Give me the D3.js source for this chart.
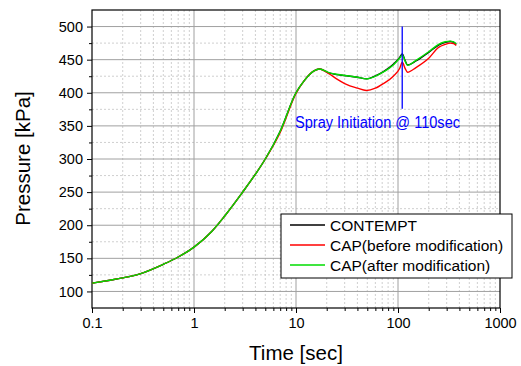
<!DOCTYPE html>
<html>
<head>
<meta charset="utf-8">
<script src="https://cdn.jsdelivr.net/npm/d3@7"></script>
<style>
  body { margin: 0; background: #fff; }
  svg { display: block; font-family: "Liberation Sans", Arial, sans-serif; }
</style>
</head>
<body>
<div id="chart"></div>
<script>
// time points [sec] shared by all series
const times = [0.1, 0.15, 0.2, 0.3, 0.5, 0.7, 1, 1.5, 2, 3, 4, 5, 7, 10, 12, 15, 17,
  21, 25, 30, 40, 49, 60, 72, 90, 104, 110, 118, 124, 150, 200, 250, 290, 325, 350, 372];

// pressure [kPa]
const contempt = [112.5, 117, 120.5, 127, 141, 152, 167, 191, 214, 250, 277, 300, 342, 400, 418, 433, 436,
  430, 427.5, 426, 423.5, 421, 425.5, 432, 443, 453.5, 458.7, 448, 442, 448, 461, 472, 476, 477.5, 476.5, 473];
const capBefore = [112.5, 117, 120.5, 127, 141, 152, 167, 191, 214, 250, 277, 300, 340, 399, 418, 433, 436,
  429, 421, 414, 407, 403.5, 407, 414, 425, 437, 446, 436, 431, 438, 452, 468.5, 473, 475, 474.5, 471.5];
const capAfter = [112.5, 117, 120.5, 127, 141, 152, 167, 191, 214, 250, 277, 300, 342, 400, 418, 433, 436,
  430.5, 428, 426, 423.5, 421, 425, 431.5, 442, 452.5, 457, 447, 441.5, 449, 462, 473, 477, 478, 477, 474];

const seriesNames = ['CONTEMPT', 'CAP(before modification)', 'CAP(after modification)'];
const seriesColors = ['#000000', '#ff0000', '#00dd00'];
const seriesValues = [contempt, capBefore, capAfter];

const xTicks = [0.1, 1, 10, 100, 1000];
const yTicks = [100, 150, 200, 250, 300, 350, 400, 450, 500];
const sprayTime = 110;
const sprayLabel = 'Spray Initiation @ 110sec';

const width = 521, height = 366;
const margin = { top: 10, right: 21, bottom: 58, left: 92 };
const innerW = width - margin.left - margin.right;
const innerH = height - margin.top - margin.bottom;

const svg = d3.select('#chart').append('svg')
  .attr('width', width)
  .attr('height', height);

const g = svg.append('g')
  .attr('transform', `translate(${margin.left},${margin.top})`);

const x = d3.scaleLog().domain([0.1, 1000]).range([0, innerW]);
const y = d3.scaleLinear().domain([75, 525]).range([innerH, 0]);

// minor positions
const xMinor = [];
[0.1, 1, 10, 100].forEach(d => { for (let k = 2; k <= 9; k++) xMinor.push(d * k); });
const yMinor = d3.range(125, 500, 50);

// grid
g.selectAll('.xminor').data(xMinor).enter().append('line')
  .attr('x1', d => x(d)).attr('x2', d => x(d))
  .attr('y1', 0).attr('y2', innerH)
  .style('stroke', '#c4c4c4').style('stroke-width', 0.8).style('stroke-dasharray', '2,2');
g.selectAll('.yminor').data(yMinor).enter().append('line')
  .attr('x1', 0).attr('x2', innerW)
  .attr('y1', d => y(d)).attr('y2', d => y(d))
  .style('stroke', '#c4c4c4').style('stroke-width', 0.8).style('stroke-dasharray', '2,2');
g.selectAll('.xmajor').data([1, 10, 100]).enter().append('line')
  .attr('x1', d => x(d)).attr('x2', d => x(d))
  .attr('y1', 0).attr('y2', innerH)
  .style('stroke', '#a0a0a0').style('stroke-width', 1);
g.selectAll('.ymajor').data(yTicks).enter().append('line')
  .attr('x1', 0).attr('x2', innerW)
  .attr('y1', d => y(d)).attr('y2', d => y(d))
  .style('stroke', '#a0a0a0').style('stroke-width', 1);

// axes
g.append('g')
  .attr('transform', `translate(0,${innerH})`)
  .call(d3.axisBottom(x).tickValues(xTicks).tickFormat(d3.format('~g')).tickSize(5).tickPadding(5));
g.append('g')
  .attr('transform', `translate(0,${innerH})`)
  .call(d3.axisBottom(x).tickValues(xMinor).tickFormat('').tickSize(3));
g.append('g')
  .call(d3.axisLeft(y).tickValues(yTicks).tickSize(5).tickPadding(4));
g.append('g')
  .call(d3.axisLeft(y).tickValues(yMinor).tickFormat('').tickSize(3));

g.selectAll('.domain').remove();
g.selectAll('.tick line').style('stroke', '#000');
g.selectAll('.tick text')
  .style('font-size', '14.5px')
  .style('fill', '#000')
  .style('font-family', '"Liberation Sans", Arial, sans-serif');

// frame
g.append('rect')
  .attr('width', innerW).attr('height', innerH)
  .style('fill', 'none').style('stroke', '#000').style('stroke-width', 1.2);

// lines
const line = d3.line()
  .x((d, i) => x(times[i]))
  .y(d => y(d))
  .curve(d3.curveMonotoneX);

g.selectAll('.series').data(seriesValues).enter().append('path')
  .attr('d', d => line(d))
  .style('fill', 'none')
  .style('stroke', (d, i) => seriesColors[i])
  .style('stroke-width', 1.4);

// spray marker
g.append('line')
  .attr('x1', x(sprayTime)).attr('x2', x(sprayTime))
  .attr('y1', y(500)).attr('y2', y(376))
  .style('stroke', '#0000ff').style('stroke-width', 1.3);
g.append('text')
  .attr('x', 295 - margin.left).attr('y', 128 - margin.top)
  .attr('textLength', 165).attr('lengthAdjust', 'spacingAndGlyphs')
  .style('font-size', '16px').style('fill', '#0000ff')
  .text(sprayLabel);

// legend
const legend = svg.append('g').attr('transform', 'translate(281,214)');
legend.append('rect')
  .attr('width', 231).attr('height', 64)
  .style('fill', '#fff').style('stroke', '#000').style('stroke-width', 1);
const items = legend.selectAll('.item').data(seriesNames).enter().append('g')
  .attr('transform', (d, i) => `translate(0,${11 + i * 20})`);
items.append('line')
  .attr('x1', 9).attr('x2', 44)
  .style('stroke', (d, i) => seriesColors[i]).style('stroke-width', 1.3);
items.append('text')
  .attr('x', 49).attr('y', 5.5)
  .style('font-size', '15.5px').style('fill', '#000')
  .text(d => d);

// axis titles
svg.append('text')
  .attr('x', margin.left + innerW / 2).attr('y', 360)
  .attr('text-anchor', 'middle')
  .style('font-size', '20.5px')
  .text('Time [sec]');
svg.append('text')
  .attr('transform', 'translate(30,158.5) rotate(-90)')
  .attr('text-anchor', 'middle')
  .style('font-size', '20.5px')
  .text('Pressure [kPa]');
</script>
</body>
</html>
